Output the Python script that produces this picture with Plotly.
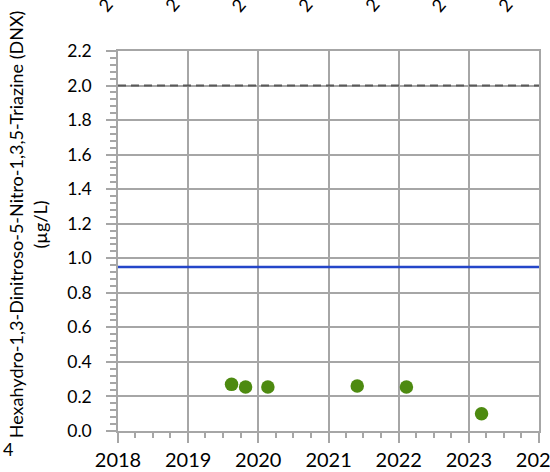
import plotly.graph_objects as go

# sample dates and DNX results (ug/L)
dates = ["2019-08-15", "2019-10-27", "2020-02-20", "2021-05-30", "2022-02-10", "2023-03-08"]
dnx = [0.27, 0.255, 0.255, 0.26, 0.255, 0.10]

# reference lines
upper_limit = 2.0
screening_level = 0.95

x_range = ["2018-01-01", "2024-01-01"]
y_range = [0, 2.2]

font = "Lato, Carlito, Calibri, sans-serif"
grid = "#a6a6a6"

fig = go.Figure()

fig.add_trace(go.Scatter(
    x=x_range, y=[upper_limit, upper_limit], mode="lines",
    line=dict(color="#595959", width=2, dash="8px,5px"),
    showlegend=False, hoverinfo="skip"))

fig.add_trace(go.Scatter(
    x=x_range, y=[screening_level, screening_level], mode="lines",
    line=dict(color="#2446c9", width=2.5),
    showlegend=False, hoverinfo="skip"))

fig.add_trace(go.Scatter(
    x=dates, y=dnx, mode="markers",
    marker=dict(color="#4d8a10", size=13.5),
    showlegend=False))

fig.update_xaxes(
    type="date", range=x_range, dtick="M12", tickformat="%Y",
    showgrid=True, gridcolor=grid, gridwidth=1.5,
    showline=True, linecolor=grid, linewidth=1.5, mirror=True,
    ticks="outside", ticklen=10, tickcolor=grid, tickwidth=1.5,
    ticklabelstandoff=0, ticklabeloverflow="allow", automargin=False,
    minor=dict(dtick="M3", ticks="outside", ticklen=5, tickcolor=grid, showgrid=False),
    tickfont=dict(family=font, size=20, color="black"), zeroline=False)

fig.update_yaxes(
    range=y_range, dtick=0.2, tickformat=".1f",
    showgrid=True, gridcolor=grid, gridwidth=1.5,
    showline=True, linecolor=grid, linewidth=1.5, mirror=True,
    ticks="outside", ticklen=10, tickcolor=grid, tickwidth=1.5,
    ticklabelstandoff=11, automargin=False,
    minor=dict(dtick=0.04, ticks="outside", ticklen=6, tickcolor=grid, showgrid=False),
    tickfont=dict(family=font, size=17.5, color="black"), zeroline=False)

annotations = [
    dict(text="Hexahydro-1,3-Dinitroso-5-Nitro-1,3,5-Triazine (DNX)<br>(µg/L)",
         xref="paper", yref="paper", x=-0.213, y=0.545, textangle=-90,
         xanchor="center", yanchor="middle",
         showarrow=False, font=dict(family=font, size=18, color="black")),
    dict(text="4", xref="paper", yref="paper", x=-0.262, y=-0.047,
         xanchor="center", yanchor="middle",
         showarrow=False, font=dict(family=font, size=18, color="black")),
]
# bits of rotated labels from the panel above, cut off by the top edge
for i in range(7):
    annotations.append(dict(
        text="2", xref="paper", yref="paper", x=-0.031 + i * 0.1583, y=1.085,
        xanchor="center", yanchor="bottom",
        textangle=-50, showarrow=False,
        font=dict(family=font, size=18, color="black")))

fig.update_layout(
    width=550, height=472,
    margin=dict(l=118, r=11, t=51, b=41),
    plot_bgcolor="white", paper_bgcolor="white",
    annotations=annotations)

# drop the page's default body margin so the figure sits at the window corner
fig.write_html("out.html", config={"displayModeBar": False},
               post_script="document.body.style.margin='0';")
